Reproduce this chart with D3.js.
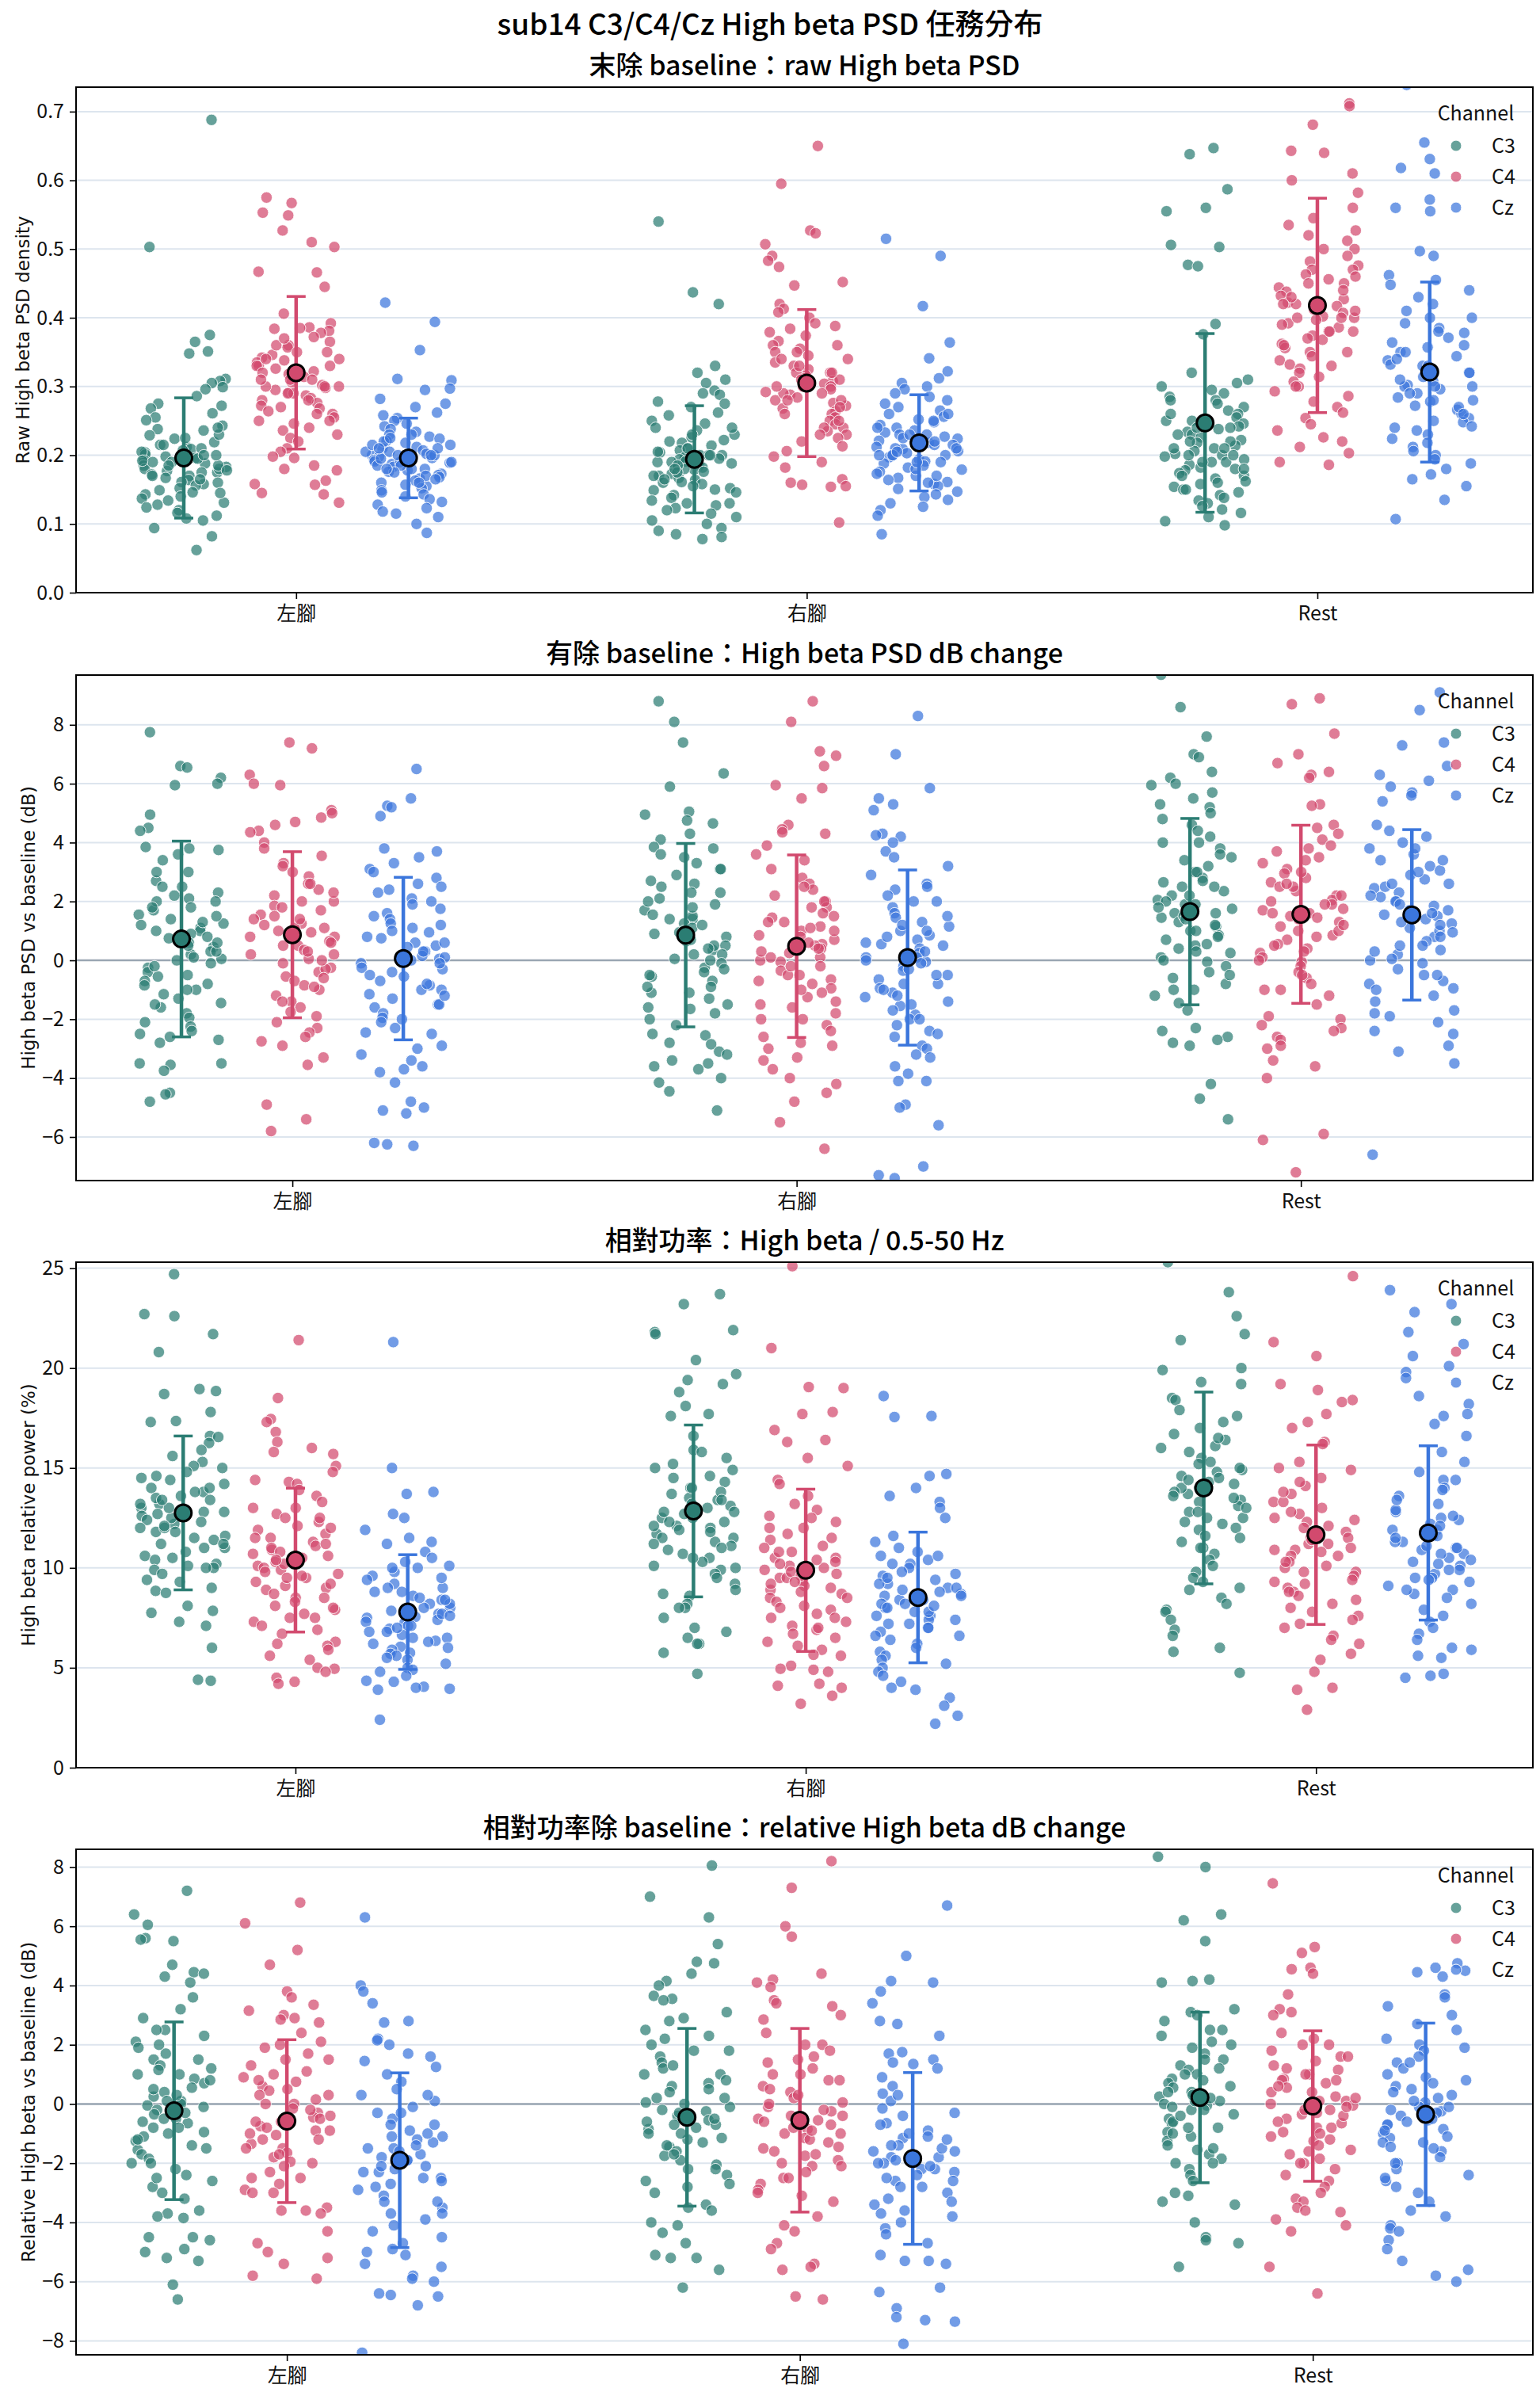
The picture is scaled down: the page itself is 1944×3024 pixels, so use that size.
<!DOCTYPE html>
<html>
<head>
<meta charset="utf-8">
<script src="https://cdn.jsdelivr.net/npm/d3@7"></script>
<style>
  body { margin: 0; background: #fff; }
  svg { display: block; }
</style>
</head>
<body>
<div id="chart"></div>
<script>
// categories / channels
const categories = ["左腳", "右腳", "Rest"];
const channels = ["C3", "C4", "Cz"];

// tick values
const rawTicks = [0, 0.1, 0.2, 0.3, 0.4, 0.5, 0.6, 0.7];
const dbTicks = [-6, -4, -2, 0, 2, 4, 6, 8];
const relTicks = [0, 5, 10, 15, 20, 25];
const relDbTicks = [-8, -6, -4, -2, 0, 2, 4, 6, 8];

// --- 末除 baseline : raw PSD (trials) ---
const rawLeftC3 = [0.688,0.503,0.375,0.365,0.351,0.348,0.311,0.308,0.305,0.299,0.296,0.286,0.275,0.272,0.268,0.261,0.255,0.251,0.243,0.238,0.236,0.229,0.224,0.219,0.215,0.212,0.209,0.207,0.204,0.201,0.198,0.196,0.193,0.19,0.188,0.185,0.183,0.18,0.177,0.175,0.172,0.17,0.167,0.164,0.161,0.158,0.156,0.152,0.149,0.146,0.143,0.14,0.137,0.134,0.131,0.128,0.124,0.12,0.116,0.112,0.108,0.105,0.094,0.082,0.062,
  0.21,0.18,0.195,0.17,0.225,0.185,0.2,0.16,0.205,0.19,0.175,0.215,0.165,0.23,0.2,0.185,0.145,0.24,0.178,0.192];
const rawLeftC4 = [0.575,0.567,0.553,0.549,0.527,0.51,0.503,0.467,0.466,0.445,0.406,0.392,0.386,0.384,0.381,0.378,0.372,0.365,0.36,0.357,0.35,0.346,0.342,0.338,0.335,0.33,0.326,0.322,0.318,0.314,0.31,0.306,0.302,0.298,0.295,0.291,0.287,0.283,0.28,0.276,0.272,0.268,0.264,0.26,0.255,0.25,0.246,0.24,0.236,0.23,0.225,0.22,0.21,0.205,0.198,0.196,0.185,0.18,0.178,0.163,0.158,0.157,0.145,0.143,0.131,
  0.3,0.34,0.29,0.33,0.31,0.36,0.28,0.35,0.32,0.27,0.3,0.385,0.25,0.31,0.34,0.29,0.37,0.26,0.33,0.3];
const rawLeftCz = [0.422,0.394,0.353,0.311,0.309,0.297,0.295,0.282,0.275,0.27,0.262,0.258,0.254,0.25,0.246,0.242,0.238,0.234,0.23,0.227,0.224,0.221,0.218,0.215,0.212,0.21,0.207,0.205,0.202,0.2,0.198,0.196,0.193,0.191,0.189,0.187,0.185,0.183,0.18,0.178,0.176,0.173,0.171,0.168,0.166,0.163,0.16,0.157,0.155,0.152,0.149,0.146,0.143,0.14,0.136,0.132,0.128,0.123,0.118,0.115,0.11,0.1,0.087,
  0.19,0.2,0.21,0.18,0.195,0.22,0.17,0.2,0.185,0.205,0.175,0.215,0.19,0.165,0.225,0.18,0.2,0.16,0.21,0.23];
const rawRightC3 = [0.54,0.437,0.42,0.33,0.32,0.31,0.305,0.294,0.29,0.288,0.278,0.275,0.27,0.262,0.258,0.25,0.246,0.24,0.236,0.23,0.226,0.222,0.218,0.214,0.21,0.207,0.204,0.2,0.197,0.194,0.191,0.188,0.185,0.182,0.179,0.176,0.173,0.17,0.167,0.164,0.161,0.158,0.155,0.152,0.149,0.146,0.142,0.138,0.134,0.13,0.127,0.123,0.12,0.115,0.11,0.105,0.1,0.094,0.09,0.085,0.081,0.078,
  0.19,0.2,0.18,0.21,0.17,0.195,0.185,0.22,0.16,0.2,0.175,0.23,0.15,0.19,0.205,0.165,0.24,0.18,0.13,0.2];
const rawRightC4 = [0.65,0.595,0.527,0.523,0.507,0.49,0.483,0.474,0.452,0.447,0.42,0.413,0.408,0.4,0.392,0.388,0.384,0.379,0.374,0.366,0.36,0.355,0.35,0.345,0.34,0.335,0.33,0.325,0.32,0.316,0.312,0.308,0.304,0.3,0.296,0.292,0.288,0.284,0.28,0.276,0.272,0.268,0.264,0.26,0.255,0.25,0.245,0.24,0.235,0.23,0.225,0.22,0.213,0.206,0.198,0.19,0.182,0.165,0.16,0.157,0.155,0.154,0.102,
  0.3,0.29,0.32,0.28,0.31,0.34,0.27,0.3,0.33,0.26,0.29,0.36,0.25,0.31,0.28,0.35,0.24,0.3,0.32,0.23];
const rawRightCz = [0.515,0.49,0.417,0.364,0.341,0.322,0.312,0.305,0.3,0.296,0.29,0.285,0.28,0.275,0.27,0.265,0.26,0.256,0.252,0.248,0.244,0.24,0.236,0.233,0.23,0.227,0.224,0.221,0.218,0.215,0.212,0.209,0.206,0.203,0.2,0.197,0.194,0.191,0.188,0.185,0.182,0.179,0.176,0.173,0.17,0.167,0.164,0.161,0.158,0.155,0.151,0.147,0.143,0.139,0.135,0.13,0.125,0.12,0.112,0.085,
  0.21,0.22,0.2,0.23,0.19,0.215,0.225,0.18,0.24,0.2,0.21,0.25,0.17,0.22,0.19,0.26,0.205,0.16,0.23,0.2];
const rawRestC3 = [0.647,0.638,0.587,0.56,0.555,0.506,0.503,0.477,0.475,0.391,0.376,0.32,0.31,0.305,0.3,0.295,0.29,0.285,0.28,0.275,0.27,0.265,0.26,0.255,0.25,0.246,0.242,0.238,0.234,0.23,0.226,0.222,0.218,0.214,0.21,0.206,0.202,0.198,0.194,0.19,0.186,0.182,0.178,0.174,0.17,0.166,0.162,0.158,0.154,0.15,0.146,0.142,0.138,0.134,0.13,0.126,0.121,0.116,0.11,0.104,0.098,
  0.2,0.22,0.18,0.24,0.19,0.21,0.23,0.17,0.2,0.25,0.16,0.22,0.19,0.28,0.21,0.15,0.24,0.2,0.18,0.26];
const rawRestC4 = [0.712,0.708,0.681,0.643,0.64,0.61,0.6,0.582,0.56,0.545,0.535,0.527,0.52,0.512,0.5,0.49,0.482,0.476,0.47,0.463,0.456,0.45,0.444,0.438,0.432,0.427,0.422,0.417,0.412,0.407,0.402,0.397,0.392,0.386,0.38,0.374,0.368,0.362,0.356,0.35,0.344,0.338,0.332,0.326,0.32,0.314,0.307,0.3,0.293,0.286,0.278,0.27,0.262,0.254,0.245,0.236,0.226,0.22,0.212,0.203,0.19,0.186,
  0.4,0.42,0.38,0.45,0.36,0.44,0.4,0.47,0.35,0.41,0.39,0.43,0.33,0.46,0.4,0.37,0.5,0.42,0.3,0.38];
const rawRestCz = [0.739,0.655,0.631,0.618,0.61,0.572,0.56,0.555,0.497,0.49,0.462,0.455,0.448,0.44,0.43,0.42,0.41,0.4,0.392,0.385,0.378,0.371,0.364,0.357,0.35,0.344,0.338,0.332,0.326,0.32,0.314,0.308,0.302,0.296,0.29,0.284,0.278,0.272,0.266,0.26,0.254,0.248,0.242,0.236,0.23,0.224,0.218,0.212,0.206,0.2,0.194,0.188,0.18,0.172,0.165,0.155,0.135,0.107,
  0.3,0.32,0.28,0.34,0.29,0.31,0.33,0.27,0.35,0.3,0.26,0.32,0.36,0.25,0.3,0.38,0.28,0.24,0.33,0.4];
const rawMeanC3 = [0.196, 0.194, 0.247], rawSdC3 = [0.0875, 0.078, 0.13];
const rawMeanC4 = [0.320, 0.305, 0.418], rawSdC4 = [0.111, 0.107, 0.156];
const rawMeanCz = [0.196, 0.218, 0.321], rawSdCz = [0.058, 0.070, 0.131];

// --- 有除 baseline : PSD dB change ---
const dbLeftC3 = [7.75,6.6,6.55,6.2,6.0,5.95,4.95,4.5,4.4,3.85,3.8,3.75,3.6,3.4,3.0,2.7,2.5,2.3,2.1,2.0,1.8,1.7,1.55,1.4,1.25,1.1,1.0,0.9,0.75,0.6,0.45,0.3,0.2,0.05,-0.1,-0.25,-0.4,-0.55,-0.7,-0.85,-1.0,-1.15,-1.3,-1.45,-1.6,-1.8,-1.95,-2.1,-2.25,-2.4,-2.5,-2.6,-2.7,-2.8,-3.5,-3.5,-3.55,-3.75,-4.5,-4.55,-4.8,
  1,0.5,1.5,0,2,0.3,-0.5,1.2,2.5,-1,0.8,1.8,-0.2,3,0.6,-1.5,1.3,2.2,0.1,-0.8];
const dbLeftC4 = [7.4,7.2,6.3,6.0,5.95,5.1,5.0,4.85,4.7,4.6,4.4,4.35,4.0,3.8,3.55,3.3,3.0,2.85,2.6,2.4,2.2,2.0,1.85,1.7,1.55,1.4,1.25,1.1,0.95,0.8,0.65,0.5,0.35,0.2,0.05,-0.1,-0.25,-0.4,-0.55,-0.7,-0.85,-1.0,-1.2,-1.4,-1.6,-1.75,-1.9,-2.1,-2.3,-2.45,-2.6,-2.75,-2.9,-3.3,-3.55,-4.9,-5.4,-5.8,
  1,0.5,1.5,0.2,2,0.8,-0.3,1.2,2.6,-0.9,0.6,1.8,0,3.2,1.1,-1.4,1.4,2.3,0.3,-0.6];
const dbLeftCz = [6.5,5.5,5.25,5.2,4.9,3.8,3.7,3.5,3.3,3.1,3.0,2.8,2.6,2.4,2.3,2.1,1.9,1.75,1.6,1.4,1.25,1.1,0.95,0.75,0.6,0.45,0.3,0.15,0.05,-0.1,-0.25,-0.4,-0.55,-0.7,-0.85,-1.0,-1.15,-1.3,-1.5,-1.6,-1.8,-1.95,-2.1,-2.3,-2.45,-2.9,-3.0,-3.2,-3.4,-3.6,-3.7,-3.8,-4.15,-4.8,-5.0,-5.1,-5.2,-6.2,-6.25,-6.3,
  0,0.5,-0.5,1,-1,0.3,-0.3,1.5,-1.5,0.8,-0.8,2,-2,0.1,-0.1,1.2,-1.2,2.5,-2.5,0.6];
const dbRightC3 = [8.8,8.1,7.4,6.35,5.9,5.05,4.95,4.75,4.65,4.3,4.1,3.85,3.8,3.6,3.5,3.3,3.1,2.9,2.7,2.5,2.3,2.1,1.9,1.7,1.55,1.4,1.25,1.1,0.95,0.8,0.65,0.5,0.35,0.2,0.05,-0.1,-0.25,-0.4,-0.55,-0.7,-0.9,-1.1,-1.3,-1.5,-1.65,-1.8,-2.0,-2.2,-2.5,-2.55,-2.8,-2.85,-3.1,-3.2,-3.4,-3.5,-3.6,-3.7,-4.0,-4.15,-4.45,-5.1,
  1,0.5,1.5,0,2,0.7,-0.5,1.2,2.6,-1.1,0.9,1.8,-0.3,3.1,0.4,-1.6,1.4,2.3,0.2,-0.9];
const dbRightC4 = [8.8,8.1,7.1,6.95,6.6,5.95,5.85,5.5,4.6,4.45,4.35,4.3,3.9,3.6,3.4,3.1,2.8,2.6,2.4,2.2,2.0,1.8,1.6,1.45,1.3,1.15,1.0,0.85,0.7,0.55,0.4,0.25,0.1,-0.05,-0.2,-0.35,-0.5,-0.65,-0.8,-0.95,-1.1,-1.25,-1.4,-1.6,-1.8,-2.0,-2.2,-2.4,-2.6,-2.8,-2.9,-3.0,-3.3,-3.4,-3.7,-4.0,-4.2,-4.5,-4.8,-5.5,-6.4,
  0.5,0,1,-0.5,1.5,0.3,-1,0.8,2,-1.5,0.6,1.3,-0.2,2.5,0.1,-2,1.1,1.8,-0.7,0.4];
const dbRightCz = [8.3,7.0,5.85,5.5,5.3,5.1,4.3,4.25,4.2,4.0,3.7,3.5,3.2,2.9,2.6,2.4,2.2,2.0,1.8,1.6,1.45,1.3,1.15,1.0,0.85,0.7,0.55,0.4,0.25,0.1,-0.05,-0.2,-0.35,-0.5,-0.65,-0.8,-0.95,-1.1,-1.25,-1.4,-1.55,-1.7,-1.85,-2.0,-2.2,-2.4,-2.6,-2.9,-3.0,-3.2,-3.3,-3.6,-3.85,-4.1,-4.1,-4.9,-5.0,-5.6,-7.0,-7.3,-7.4,
  0,0.5,-0.5,1,-1,0.3,-0.3,1.5,-1.5,0.8,-0.8,2,-2,0.1,-0.1,1.2,-1.2,2.5,-2.5,0.6];
const dbRestC3 = [9.7,8.6,7.6,7.0,6.9,6.4,6.2,6.0,5.95,5.7,5.5,5.3,5.2,5.0,4.8,4.6,4.4,4.2,4.0,3.8,3.6,3.4,3.2,3.0,2.8,2.65,2.5,2.35,2.2,2.05,1.9,1.75,1.6,1.45,1.3,1.15,1.0,0.85,0.7,0.55,0.4,0.25,0.1,-0.05,-0.2,-0.4,-0.6,-0.8,-1.0,-1.2,-1.45,-1.7,-2.3,-2.4,-2.6,-2.7,-2.8,-2.9,-4.2,-4.7,-5.4,
  1.5,2,1,2.5,0.5,1.8,1.2,3,0,2.2,0.8,3.5,-0.5,1.6,2.7,0.3,1.9,4,-1,1.4];
const dbRestC4 = [8.9,8.7,7.7,7.0,6.7,6.4,6.3,6.2,5.3,5.25,4.6,4.5,4.3,4.1,3.9,3.7,3.5,3.3,3.1,2.95,2.8,2.65,2.5,2.35,2.2,2.05,1.9,1.75,1.6,1.45,1.3,1.15,1.0,0.85,0.7,0.55,0.4,0.25,0.1,-0.05,-0.2,-0.4,-0.6,-0.8,-1.0,-1.2,-1.5,-1.9,-2.0,-2.2,-2.3,-2.4,-2.6,-2.7,-2.9,-3.0,-3.4,-3.6,-4.0,-5.9,-6.1,-7.2,
  1.5,2,1,2.5,0.5,1.7,1.2,3,0,2.2,0.8,3.4,-0.5,1.6,2.6,0.3,1.9,3.8,-1,1.4];
const dbRestCz = [9.1,8.5,7.4,7.3,6.6,6.3,6.1,5.9,5.7,5.6,5.4,4.6,4.4,4.2,4.0,3.8,3.6,3.4,3.2,3.05,2.9,2.75,2.6,2.45,2.3,2.15,2.0,1.85,1.7,1.55,1.4,1.25,1.1,0.95,0.8,0.65,0.5,0.35,0.2,0.05,-0.1,-0.3,-0.5,-0.7,-0.8,-0.95,-1.2,-1.4,-1.7,-1.8,-1.9,-2.1,-2.4,-2.5,-2.9,-3.1,-3.5,-6.6,
  1.5,2,1,2.5,0.5,1.7,1.2,3,0,2.2,0.8,3.4,-0.5,1.6,2.6,0.3,1.9,3.8,-1,1.3];
const dbMeanC3 = [0.725, 0.855, 1.655], dbSdC3 = [3.325, 3.115, 3.165];
const dbMeanC4 = [0.87, 0.48, 1.565], dbSdC4 = [2.82, 3.10, 3.025];
const dbMeanCz = [0.06, 0.095, 1.545], dbSdCz = [2.76, 2.975, 2.895];

// --- 相對功率 : High beta / 0.5-50 Hz (%) ---
const relLeftC3 = [24.7,22.7,22.6,21.7,20.8,18.95,18.85,18.7,17.8,17.35,17.3,16.6,16.55,16.25,15.9,15.6,15.3,15.1,14.8,14.6,14.4,14.2,14.0,13.8,13.6,13.4,13.2,13.0,12.8,12.6,12.4,12.2,12.0,11.8,11.6,11.4,11.2,11.0,10.8,10.6,10.4,10.2,10.1,10.0,9.9,9.7,9.4,9.3,9.0,8.85,8.75,8.1,7.85,7.75,7.3,7.1,6.0,4.4,4.35,
  12.5,13,12,13.5,11.5,14,11,12.8,13.2,10.5,14.5,12.3,11.8,15,12.7,10,13.8,12.1,11.2,13.4];
const relLeftC4 = [21.4,18.5,17.45,17.3,16.8,16.3,16.0,15.8,15.7,15.1,14.8,14.4,14.3,14.2,13.9,13.6,13.3,13.0,12.7,12.5,12.3,12.1,11.9,11.7,11.5,11.3,11.1,10.9,10.7,10.5,10.3,10.1,9.9,9.7,9.5,9.3,9.1,8.9,8.7,8.5,8.3,8.1,7.9,7.7,7.5,7.3,7.1,6.9,6.7,6.3,6.2,6.1,5.9,5.6,5.4,5.0,4.95,4.8,4.5,4.3,4.2,
  10,10.5,9.5,11,9,10.8,11.5,8.5,10.2,12,9.8,8,10.6,12.5,9.2,11.2,7.5,10.4,9.6,13];
const relLeftCz = [21.3,15.0,13.8,13.7,12.7,12.5,11.9,11.5,11.3,11.2,10.8,10.5,10.3,10.1,10.0,9.8,9.6,9.4,9.2,9.0,8.8,8.6,8.4,8.2,8.0,7.85,7.7,7.55,7.4,7.25,7.1,6.95,6.8,6.65,6.5,6.35,6.2,6.05,5.9,5.75,5.7,5.6,5.4,5.2,5.0,4.9,4.8,4.6,4.35,4.3,4.05,4.0,3.95,3.9,2.4,
  7.5,8,7,8.5,6.5,7.8,9,6,8.2,7.3,9.5,5.5,7.7,8.8,6.8,10,7.1,8.4,6.3,7.6];
const relRightC3 = [23.7,23.2,21.9,21.8,21.7,20.4,19.7,19.4,19.2,18.8,18.1,17.7,17.6,16.6,15.9,15.8,15.5,15.2,14.9,14.6,14.3,14.0,13.7,13.4,13.1,12.8,12.5,12.3,12.1,11.9,11.7,11.5,11.3,11.1,10.9,10.7,10.5,10.3,10.1,9.9,9.7,9.5,9.2,8.9,8.7,8.6,8.2,8.0,8.0,7.5,7.0,6.8,6.5,6.2,6.2,5.75,4.7,
  12.5,13,12,13.5,11.5,14,11,12.8,13.2,10.5,14.5,12.3,11.8,15,12.7,10,13.8,12.1,11.2,13.4];
const relRightC4 = [25.1,21.0,19.05,19.0,17.8,17.7,16.9,16.4,16.3,15.5,15.1,14.4,14.2,13.6,13.2,12.9,12.6,12.3,12.0,11.7,11.4,11.1,10.8,10.5,10.3,10.1,9.9,9.7,9.5,9.3,9.1,8.9,8.7,8.5,8.3,8.1,7.9,7.7,7.5,7.3,7.1,6.9,6.7,6.5,6.3,6.1,5.9,5.65,5.6,5.1,4.95,4.9,4.8,4.2,4.1,4.0,3.6,3.2,
  9.5,10,9,10.5,8.5,10.2,11,8,9.8,11.5,9.2,7.5,10.4,12,8.8,10.8,7,9.6,9.3,12.5];
const relRightCz = [18.6,17.6,17.55,14.7,14.6,14.0,13.6,13.3,13.0,12.5,11.6,11.3,11.0,10.8,10.6,10.4,10.2,10.0,9.8,9.6,9.4,9.2,9.0,8.8,8.6,8.4,8.2,8.0,7.8,7.6,7.4,7.2,7.0,6.8,6.6,6.4,6.2,6.0,5.8,5.6,5.4,5.2,5.0,4.8,4.6,4.3,4.0,3.9,3.5,3.1,2.6,2.2,
  8.2,8.7,7.8,9.2,7.4,8.5,9.7,7,8.9,8,10.2,6.6,8.4,9.5,7.6,10.6,8.1,9,7.2,8.6];
const relRestC3 = [25.3,23.8,22.6,21.7,21.4,20.0,19.9,19.3,19.2,18.5,18.4,17.9,17.6,17.3,17.0,16.7,16.4,16.1,15.8,15.5,15.2,14.9,14.6,14.3,14.0,13.7,13.4,13.1,12.8,12.5,12.2,11.9,11.6,11.3,11.0,10.7,10.4,10.1,9.8,9.5,9.3,9.0,8.9,8.5,8.2,7.9,7.8,7.4,6.9,6.6,6.0,5.8,4.75,
  13.5,14.2,13,14.8,12.5,15.3,12,14,13.8,11.5,16,13.3,12.8,16.5,14.5,11,15,13.6,12.3,14.4];
const relRestC4 = [24.6,21.3,20.6,19.2,18.9,18.4,18.3,17.7,17.3,17.0,16.3,16.2,15.3,15.0,14.9,14.5,14.1,13.7,13.3,13.0,12.7,12.4,12.1,11.8,11.5,11.2,10.9,10.6,10.3,10.0,9.8,9.6,9.4,9.2,9.0,8.8,8.6,8.4,8.2,8.0,7.8,7.6,7.4,7.2,7.0,6.6,6.4,6.2,5.7,5.4,4.8,4.0,3.9,2.9,
  11.2,11.8,10.8,12.3,10.3,12.8,9.8,11.5,11,13.3,10.6,9.3,12,13.8,10.1,12.5,8.8,11.4,10.9,14.3];
const relRestCz = [23.9,23.2,22.8,21.8,21.2,20.6,20.1,19.8,19.5,18.6,18.2,17.7,17.6,17.2,16.6,15.8,15.3,14.8,14.4,14.0,13.6,13.2,12.8,12.5,12.2,11.9,11.6,11.3,11.0,10.7,10.5,10.3,10.1,9.9,9.7,9.5,9.5,9.3,9.1,8.9,8.7,8.5,8.2,7.9,7.6,7.3,7.0,6.7,6.4,6.0,5.9,5.6,5.5,4.7,4.6,4.5,
  11.3,11.9,10.9,12.4,10.4,12.9,9.9,11.6,11.1,13.4,10.7,9.4,12.1,13.9,10.2,12.6,8.9,11.5,11,14.4];
const relMeanC3 = [12.75, 12.85, 14.0], relSdC3 = [3.85, 4.3, 4.8];
const relMeanC4 = [10.39, 9.88, 11.66], relSdC4 = [3.6, 4.06, 4.49];
const relMeanCz = [7.79, 8.52, 11.75], relSdCz = [2.87, 3.27, 4.36];

// --- 相對功率除 baseline : relative dB change ---
const rdbLeftC3 = [7.2,6.4,6.05,5.6,5.55,5.5,4.7,4.45,4.4,4.3,4.1,3.6,3.2,2.9,2.5,2.3,2.1,1.9,1.7,1.5,1.3,1.15,1.0,0.85,0.7,0.55,0.4,0.25,0.1,-0.05,-0.2,-0.35,-0.5,-0.65,-0.8,-0.95,-1.1,-1.25,-1.4,-1.55,-1.7,-1.85,-2.0,-2.2,-2.4,-2.6,-2.8,-3.0,-3.2,-3.6,-3.7,-3.8,-3.85,-4.5,-4.5,-4.6,-4.9,-5.0,-5.2,-5.3,-6.1,-6.6,
  0,-0.5,0.5,-1,1,-0.3,0.3,-1.5,1.5,-0.8,0.8,-2,2,-0.1,0.1,-1.2,1.2,-2.5,2.5,-0.6];
const rdbLeftC4 = [6.8,6.1,5.2,4.7,3.8,3.6,3.35,3.15,3.0,2.9,2.85,2.75,2.4,2.1,1.9,1.7,1.5,1.3,1.1,0.9,0.75,0.6,0.45,0.3,0.15,0.0,-0.15,-0.3,-0.45,-0.6,-0.75,-0.9,-1.05,-1.2,-1.35,-1.5,-1.65,-1.8,-1.95,-2.1,-2.3,-2.5,-2.7,-2.9,-3.0,-3.5,-3.6,-3.6,-3.7,-4.3,-4.7,-5.0,-5.2,-5.4,-5.8,-5.9,
  -0.5,-1,0,-1.5,0.5,-0.8,-0.2,-2,1,-1.2,0.3,-2.5,1.5,-0.6,-0.4,-1.7,0.8,-3,2,-0.9];
const rdbLeftCz = [6.3,4.0,3.8,3.4,2.8,2.75,2.2,2.15,2.0,1.7,1.6,1.45,1.25,1.0,0.75,0.5,0.3,0.1,-0.1,-0.3,-0.5,-0.7,-0.9,-1.1,-1.3,-1.5,-1.7,-1.9,-2.1,-2.3,-2.5,-2.7,-2.9,-3.1,-3.3,-3.5,-3.7,-3.9,-4.1,-4.3,-4.5,-4.7,-4.9,-5.0,-5.1,-5.4,-5.5,-5.8,-5.9,-6.0,-6.4,-6.45,-6.5,-6.8,-8.4,
  -1.8,-2.2,-1.5,-2.5,-1.2,-2,-1,-2.8,-0.7,-1.9,-2.3,-0.3,-3.3,-1.6,-2.1,0.3,-3.7,-1.4,-2.6,-1.1];
const rdbRightC3 = [8.05,7.0,6.3,5.4,4.8,4.75,4.4,4.15,4.0,3.65,3.55,3.5,3.1,2.9,2.8,2.5,2.2,2.0,1.8,1.6,1.4,1.2,1.0,0.8,0.6,0.4,0.2,0.05,-0.1,-0.25,-0.4,-0.55,-0.7,-0.85,-1.0,-1.15,-1.3,-1.45,-1.6,-1.75,-1.9,-2.05,-2.2,-2.4,-2.6,-2.8,-3.0,-3.4,-3.5,-3.6,-4.0,-4.1,-4.35,-4.7,-5.1,-5.2,-5.2,-5.6,-6.2,
  -0.3,-0.7,0.2,-1.2,0.7,-0.5,0,-1.7,1.3,-1,0.5,-2.2,1.8,-0.2,-0.6,-1.4,1,-2.7,2.3,-0.8];
const rdbRightC4 = [8.2,7.3,6.0,5.65,4.4,4.2,4.1,3.95,3.5,3.4,3.3,3.0,2.85,2.4,2.0,1.8,1.6,1.4,1.2,1.0,0.8,0.6,0.4,0.2,0.05,-0.1,-0.25,-0.4,-0.55,-0.7,-0.85,-1.0,-1.15,-1.3,-1.45,-1.6,-1.75,-1.9,-2.1,-2.1,-2.3,-2.5,-2.7,-2.9,-3.1,-3.3,-3.8,-4.1,-4.3,-4.7,-4.9,-5.4,-5.5,-5.6,-6.5,-6.6,
  -0.5,-1,0,-1.5,0.5,-0.8,-0.2,-2,1,-1.2,0.3,-2.5,1.5,-0.6,-0.4,-1.7,0.8,-3,2,-0.9];
const rdbRightCz = [6.7,5.0,4.15,4.1,3.8,3.4,2.8,2.7,2.3,1.75,1.7,1.5,1.4,1.35,1.2,0.9,0.6,0.35,0.1,-0.15,-0.4,-0.65,-0.9,-1.15,-1.4,-1.6,-1.8,-2.0,-2.2,-2.4,-2.6,-2.8,-3.0,-3.2,-3.4,-3.6,-3.8,-4.0,-4.2,-4.4,-4.7,-5.1,-5.3,-5.3,-5.4,-6.2,-6.35,-6.9,-7.2,-7.3,-7.35,-8.1,
  -1.8,-2.2,-1.5,-2.5,-1.2,-2,-1,-2.8,-0.7,-1.9,-2.3,-0.3,-3.3,-1.6,-2.1,0.3,-3.7,-1.4,-2.6,-1.1];
const rdbRestC3 = [8.35,8.0,6.4,6.2,5.5,4.2,4.15,4.1,3.2,3.1,3.0,2.8,2.5,2.3,2.1,1.9,1.7,1.5,1.3,1.15,1.0,0.85,0.7,0.55,0.4,0.25,0.1,-0.05,-0.2,-0.35,-0.5,-0.65,-0.8,-0.95,-1.1,-1.25,-1.4,-1.55,-1.7,-1.85,-2.0,-2.2,-2.4,-2.6,-3.0,-3.1,-3.3,-3.4,-4.0,-4.5,-4.6,-4.7,-5.5,
  0.2,-0.2,0.6,-0.6,1,0,0.4,-1,1.5,-0.4,0.8,-1.5,2,0.1,0.3,-0.8,1.2,-2,2.5,-0.1];
const rdbRestC4 = [7.45,5.3,5.1,4.6,4.55,4.4,3.7,3.2,3.1,3.0,2.4,2.2,2.0,1.8,1.6,1.45,1.3,1.15,1.0,0.85,0.8,0.7,0.55,0.4,0.25,0.1,-0.05,-0.2,-0.35,-0.5,-0.65,-0.8,-0.95,-1.1,-1.25,-1.4,-1.55,-1.7,-1.85,-2.0,-2.2,-2.4,-2.6,-2.8,-3.0,-3.2,-3.3,-3.5,-3.6,-3.65,-3.9,-4.1,-4.3,-5.5,-6.4,
  0,-0.4,0.4,-0.8,0.8,-0.2,0.2,-1.2,1.2,-0.6,0.6,-1.6,1.6,-0.1,0.1,-1,1,-2,2,-0.3];
const rdbRestCz = [4.75,4.6,4.5,4.45,4.3,3.7,3.6,3.3,3.0,2.7,2.5,2.2,2.0,1.8,1.6,1.4,1.2,1.0,0.8,0.6,0.4,0.2,0.05,-0.1,-0.25,-0.4,-0.55,-0.7,-0.85,-1.0,-1.15,-1.3,-1.45,-1.6,-1.8,-2.0,-2.2,-2.4,-2.6,-2.8,-3.0,-3.3,-3.6,-3.8,-4.1,-4.2,-4.3,-4.6,-4.9,-5.3,-5.6,-5.8,-6.0,
  -0.3,-0.7,0.1,-1.1,0.5,-0.5,-0.1,-1.5,0.9,-0.9,0.3,-2,1.4,-0.2,-0.4,-1.3,0.7,-2.5,1.9,-0.6];
const rdbMeanC3 = [-0.23, -0.45, 0.22], rdbSdC3 = [3.0, 3.0, 2.88];
const rdbMeanC4 = [-0.58, -0.55, -0.07], rdbSdC4 = [2.75, 3.1, 2.54];
const rdbMeanCz = [-1.9, -1.84, -0.35], rdbSdCz = [2.95, 2.9, 3.08];

// ---------- layout ----------
const W = 1944, H = 3024;
const left = 96, right = 1935;
const panelH = 638;
const colors = { C3: "#2b7d73", C4: "#d24a6e", Cz: "#3b76dc" };
const dodge = { C3: -0.22, C4: 0, Cz: 0.22 };
const jitterW = 0.085;
const font = "'Noto Sans CJK TC', 'Noto Sans', sans-serif";

const panels = [
  { top: 110, title: "末除 baseline：raw High beta PSD", ylabel: "Raw High beta PSD density",
    ydom: [0, 0.7356], xdom: [-0.431, 2.422], ticks: rawTicks, fmt: d3.format(".1f"), zero: false,
    points: { C3: [rawLeftC3, rawRightC3, rawRestC3], C4: [rawLeftC4, rawRightC4, rawRestC4], Cz: [rawLeftCz, rawRightCz, rawRestCz] },
    means: { C3: rawMeanC3, C4: rawMeanC4, Cz: rawMeanCz }, sds: { C3: rawSdC3, C4: rawSdC4, Cz: rawSdCz } },
  { top: 852, title: "有除 baseline：High beta PSD dB change", ylabel: "High beta PSD vs baseline (dB)",
    ydom: [-7.48, 9.69], xdom: [-0.429, 2.46], ticks: dbTicks, fmt: d3.format("d"), zero: true,
    points: { C3: [dbLeftC3, dbRightC3, dbRestC3], C4: [dbLeftC4, dbRightC4, dbRestC4], Cz: [dbLeftCz, dbRightCz, dbRestCz] },
    means: { C3: dbMeanC3, C4: dbMeanC4, Cz: dbMeanCz }, sds: { C3: dbSdC3, C4: dbSdC4, Cz: dbSdCz } },
  { top: 1593, title: "相對功率：High beta / 0.5-50 Hz", ylabel: "High beta relative power (%)",
    ydom: [0, 25.3], xdom: [-0.43, 2.425], ticks: relTicks, fmt: d3.format("d"), zero: false,
    points: { C3: [relLeftC3, relRightC3, relRestC3], C4: [relLeftC4, relRightC4, relRestC4], Cz: [relLeftCz, relRightCz, relRestCz] },
    means: { C3: relMeanC3, C4: relMeanC4, Cz: relMeanCz }, sds: { C3: relSdC3, C4: relSdC4, Cz: relSdCz } },
  { top: 2334, title: "相對功率除 baseline：relative High beta dB change", ylabel: "Relative High beta vs baseline (dB)",
    ydom: [-8.47, 8.6], xdom: [-0.411, 2.429], ticks: relDbTicks, fmt: d3.format("d"), zero: true,
    points: { C3: [rdbLeftC3, rdbRightC3, rdbRestC3], C4: [rdbLeftC4, rdbRightC4, rdbRestC4], Cz: [rdbLeftCz, rdbRightCz, rdbRestCz] },
    means: { C3: rdbMeanC3, C4: rdbMeanC4, Cz: rdbMeanCz }, sds: { C3: rdbSdC3, C4: rdbSdC4, Cz: rdbSdCz } }
];

// deterministic jitter (layout only)
function jit(i, seed) {
  const s = Math.sin(i * 127.1 + seed * 311.7) * 43758.5453;
  return (s - Math.floor(s)) * 2 - 1;
}

const svg = d3.select("#chart").append("svg")
  .attr("width", W).attr("height", H)
  .style("background", "#fff");

// suptitle
svg.append("text")
  .attr("x", W / 2).attr("y", 44)
  .attr("text-anchor", "middle")
  .style("font-family", font).style("font-size", "37px").style("font-weight", 500).style("fill", "#000")
  .text("sub14 C3/C4/Cz High beta PSD 任務分布");

panels.forEach((p, pi) => {
  const top = p.top, bottom = top + panelH;
  const x = d3.scaleLinear().domain(p.xdom).range([left, right]);
  const y = d3.scaleLinear().domain(p.ydom).range([bottom, top]);
  const g = svg.append("g");

  g.append("clipPath").attr("id", "clip" + pi)
    .append("rect").attr("x", left).attr("y", top).attr("width", right - left).attr("height", panelH);

  // grid
  g.selectAll(".grid").data(p.ticks).enter().append("line")
    .attr("x1", left).attr("x2", right)
    .attr("y1", d => y(d)).attr("y2", d => y(d))
    .attr("stroke", "#dde5ee").attr("stroke-width", 2);
  if (p.zero) {
    g.append("line").attr("x1", left).attr("x2", right)
      .attr("y1", y(0)).attr("y2", y(0))
      .attr("stroke", "#9aa6b2").attr("stroke-width", 2.5);
  }

  // points
  const pts = g.append("g").attr("clip-path", `url(#clip${pi})`);
  channels.forEach((ch, ci) => {
    p.points[ch].forEach((vals, k) => {
      pts.selectAll(null).data(vals).enter().append("circle")
        .attr("cx", (d, i) => x(k + dodge[ch] + jit(i, pi * 9 + ci * 3 + k + 1) * jitterW))
        .attr("cy", d => y(d))
        .attr("r", 7.2)
        .attr("fill", colors[ch]).attr("fill-opacity", 0.72)
        .attr("stroke", "#fff").attr("stroke-width", 1).attr("stroke-opacity", 0.85);
    });
  });

  // error bars + means
  channels.forEach(ch => {
    categories.forEach((c, k) => {
      const cx = x(k + dodge[ch]);
      const m = p.means[ch][k], s = p.sds[ch][k];
      g.append("line").attr("x1", cx).attr("x2", cx)
        .attr("y1", y(m - s)).attr("y2", y(m + s))
        .attr("stroke", colors[ch]).attr("stroke-width", 4.5);
      [m - s, m + s].forEach(v => {
        g.append("line").attr("x1", cx - 12).attr("x2", cx + 12)
          .attr("y1", y(v)).attr("y2", y(v))
          .attr("stroke", colors[ch]).attr("stroke-width", 3.5);
      });
    });
  });
  channels.forEach(ch => {
    categories.forEach((c, k) => {
      g.append("circle")
        .attr("cx", x(k + dodge[ch])).attr("cy", y(p.means[ch][k]))
        .attr("r", 10.5)
        .attr("fill", colors[ch]).attr("stroke", "#000").attr("stroke-width", 3);
    });
  });

  // axes
  const yAxis = g.append("g")
    .attr("transform", `translate(${left},0)`)
    .call(d3.axisLeft(y).tickValues(p.ticks).tickFormat(p.fmt).tickSize(8).tickPadding(7));
  const xAxis = g.append("g")
    .attr("transform", `translate(0,${bottom})`)
    .call(d3.axisBottom(x).tickValues([0, 1, 2]).tickFormat(i => categories[i]).tickSize(8).tickPadding(9));
  [yAxis, xAxis].forEach(a => {
    a.select(".domain").remove();
    a.selectAll(".tick line").attr("stroke", "#000").attr("stroke-width", 1.6);
    a.selectAll(".tick text").style("font-family", font).style("font-size", "25px").style("fill", "#111");
  });

  // y label placed just left of the tick labels
  const tb = yAxis.node().getBBox();
  g.append("text")
    .attr("transform", `translate(${left + tb.x - 9},${(top + bottom) / 2}) rotate(-90)`)
    .attr("text-anchor", "middle")
    .style("font-family", "'DejaVu Sans', sans-serif").style("font-size", "23px").style("fill", "#111")
    .text(p.ylabel);

  // legend
  const lg = g.append("g");
  lg.append("text").attr("x", 1863).attr("y", top + 42).attr("text-anchor", "middle")
    .style("font-family", font).style("font-size", "25px").style("fill", "#111").text("Channel");
  channels.forEach((ch, ci) => {
    const ly = top + 74 + ci * 39;
    lg.append("circle").attr("cx", 1838).attr("cy", ly).attr("r", 7)
      .attr("fill", colors[ch]).attr("fill-opacity", 0.72)
      .attr("stroke", "#fff").attr("stroke-width", 1);
    lg.append("text").attr("x", 1883).attr("y", ly + 9)
      .style("font-family", font).style("font-size", "25px").style("fill", "#111").text(ch);
  });

  // frame
  g.append("rect").attr("x", left).attr("y", top).attr("width", right - left).attr("height", panelH)
    .attr("fill", "none").attr("stroke", "#000").attr("stroke-width", 2);

  // subtitle
  g.append("text").attr("x", (left + right) / 2).attr("y", top - 15)
    .attr("text-anchor", "middle")
    .style("font-family", font).style("font-size", "34px").style("font-weight", 500).style("fill", "#000")
    .text(p.title);
});
</script>
</body>
</html>
